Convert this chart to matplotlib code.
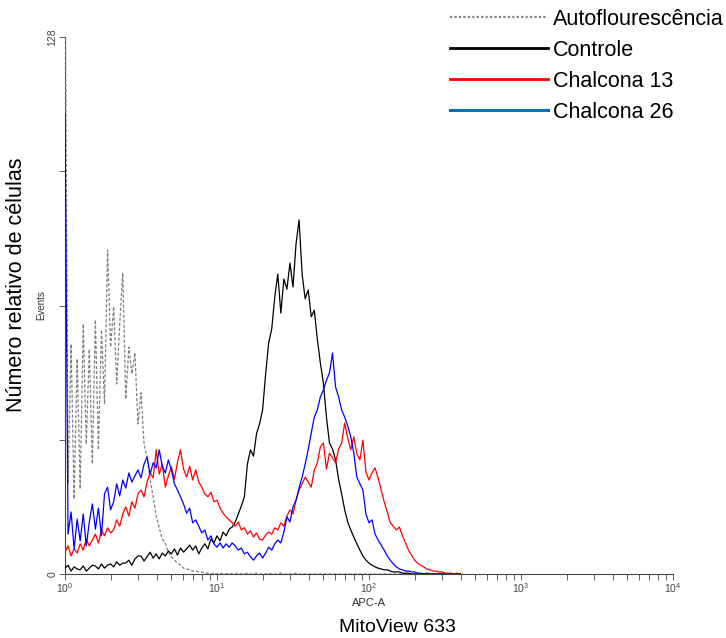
import numpy as np
import matplotlib
matplotlib.use("Agg")
import matplotlib.pyplot as plt
from matplotlib.lines import Line2D

plt.rcParams['font.family'] = ['Liberation Sans', 'DejaVu Sans']

# histogram channels (50 per decade, starting at 10^0)
channel = np.arange(131)
apc = 10 ** (channel / 50)

# Events per channel
autofluor = [150, 21.5, 54.8, 17.9, 51.3, 20.3, 59.6, 31.0, 53.6, 26.2,
             60.6, 29.6, 58.2, 40.5, 77.2, 54.1, 63.7, 45.3, 59.6, 71.8,
             41.7, 54.1, 47.7, 52.7, 35.8, 43.2, 31.0, 27.9, 22.4, 18.4,
             13.8, 11.0, 8.3, 7.4, 5.2, 4.1, 3.3, 2.6, 2.1, 1.4,
             1.2, 1.0, 0.7, 0.7, 0.5, 0.5, 0.2, 0.2, 0, 0.2,
             0, 0.2, 0, 0, 0.2, 0, 0, 0.2, 0, 0,
             0.2, 0, 0, 0.2, 0, 0, 0, 0.2, 0, 0,
             0, 0.2, 0, 0, 0, 0, 0.2, 0, 0, 0,
             0, 0, 0, 0, 0, 0, 0, 0, 0, 0,
             0, 0, 0, 0, 0, 0, 0, 0, 0, 0,
             0, 0, 0, 0, 0, 0, 0, 0, 0, 0,
             0, 0, 0, 0, 0, 0, 0, 0, 0, 0,
             0, 0, 0, 0, 0, 0, 0, 0, 0, 0,
             0]

controle = [1.4, 2.1, 0.7, 1.7, 1.2, 1.0, 1.9, 0.7, 1.4, 2.1,
            1.9, 1.2, 2.4, 1.4, 2.1, 2.4, 1.7, 2.9, 2.1, 2.6,
            2.6, 3.3, 2.1, 3.6, 4.3, 4.3, 3.1, 4.1, 5.2, 3.8,
            4.8, 3.6, 5.0, 4.3, 5.5, 4.8, 6.0, 4.5, 6.2, 5.2,
            6.0, 6.9, 5.7, 6.7, 4.8, 6.2, 7.2, 6.0, 8.3, 7.4,
            9.1, 7.9, 10.0, 9.1, 10.7, 11.2, 12.4, 14.3, 16.2, 18.4,
            26.2, 29.6, 28.1, 33.4, 35.8, 39.1, 47.7, 55.1, 58.4, 66.0,
            71.5, 62.2, 70.3, 67.9, 74.1, 68.4, 78.7, 84.4, 71.5, 65.6,
            67.7, 61.3, 62.9, 56.0, 50.3, 45.5, 37.4, 31.2, 29.8, 27.2,
            22.6, 19.1, 15.3, 12.4, 10.5, 8.8, 7.2, 5.7, 4.3, 3.3,
            2.6, 2.1, 1.7, 1.4, 1.2, 1.0, 1.0, 0.7, 0.5, 0.5,
            0.5, 0.2, 0.2, 0.2, 0, 0, 0, 0, 0, 0,
            0, 0, 0, 0, 0, 0, 0, 0, 0, 0,
            0]

chalcona13 = [5.2, 6.7, 4.3, 6.0, 5.0, 7.2, 5.7, 8.3, 6.7, 8.1,
              9.5, 7.4, 10.5, 9.1, 11.0, 9.8, 10.5, 12.9, 11.4, 14.3,
              16.0, 13.8, 17.2, 15.7, 19.1, 20.0, 18.4, 21.9, 24.1, 22.9,
              29.6, 23.8, 26.2, 20.7, 23.4, 25.5, 22.6, 26.7, 29.6, 25.0,
              23.1, 25.7, 22.4, 24.8, 21.9, 20.7, 19.1, 18.4, 19.5, 17.2,
              17.6, 15.7, 14.5, 13.6, 12.9, 12.2, 11.4, 12.4, 10.5, 11.0,
              9.5, 10.3, 8.8, 9.8, 8.3, 8.1, 9.3, 10.0, 9.5, 11.0,
              10.5, 12.2, 11.4, 13.8, 15.3, 14.3, 17.6, 20.0, 21.5, 23.1,
              21.9, 20.7, 24.8, 26.5, 30.3, 31.2, 25.0, 28.8, 27.7, 26.5,
              29.8, 31.2, 36.0, 32.4, 29.6, 32.7, 28.6, 27.2, 31.9, 24.3,
              22.4, 24.1, 25.3, 22.9, 20.0, 17.2, 14.8, 12.2, 11.4, 10.5,
              11.2, 9.1, 7.4, 5.7, 4.5, 3.3, 2.6, 2.1, 1.7, 1.2,
              1.0, 0.7, 0.7, 0.5, 0.5, 0.2, 0.2, 0.2, 0, 0.2,
              0]

chalcona26 = [109.4, 9.5, 14.8, 6.0, 13.1, 7.9, 14.3, 6.7, 12.4, 16.7,
              10.7, 15.7, 9.1, 19.1, 20.7, 15.3, 17.2, 21.5, 18.6, 22.4,
              20.5, 24.1, 21.9, 23.4, 24.8, 22.9, 26.2, 27.9, 23.8, 26.5,
              25.3, 29.6, 25.7, 24.1, 27.2, 24.8, 21.5, 20.0, 18.4, 16.7,
              14.5, 15.7, 12.2, 12.9, 11.4, 9.8, 10.5, 8.1, 9.1, 7.2,
              6.4, 7.4, 6.2, 7.2, 6.4, 7.4, 6.7, 5.7, 6.2, 4.8,
              5.2, 4.1, 3.3, 4.3, 5.0, 3.8, 5.0, 6.4, 5.7, 7.2,
              8.1, 7.4, 10.0, 13.6, 12.4, 16.0, 17.6, 20.5, 23.1, 26.2,
              29.6, 33.6, 37.4, 39.1, 42.2, 43.9, 46.2, 47.9, 52.7, 44.6,
              42.2, 39.1, 37.4, 35.3, 32.7, 28.8, 23.1, 21.5, 20.0, 14.3,
              12.2, 12.9, 9.5, 8.1, 6.9, 5.7, 4.3, 3.3, 2.4, 1.7,
              1.2, 1.0, 0.7, 0.7, 0.5, 0.5, 0.2, 0.2, 0, 0.2,
              0, 0, 0, 0, 0, 0, 0, 0, 0, 0,
              0]

labels = ['Autoflourescência', 'Controle', 'Chalcona 13', 'Chalcona 26']

fig = plt.figure(figsize=(7.26, 6.38), dpi=100)
ax = fig.add_axes([65/726, 64/638, 608/726, 537/638])

ax.plot(apc, autofluor, color='#808080', lw=0.9, ls=(0, (2.5, 1.5)), zorder=3)
ax.plot(apc, controle, color='black', lw=0.9, zorder=3)
ax.plot(apc, chalcona13, color='#ff0000', lw=0.9, zorder=3)
ax.plot(apc, chalcona26, color='#0000ff', lw=0.9, zorder=3)

ax.set_xscale('log')
ax.set_xlim(1, 1e4)
ax.set_ylim(0, 128)
ax.spines['top'].set_visible(False)
ax.spines['right'].set_visible(False)
for s in ['left', 'bottom']:
    ax.spines[s].set_linewidth(0.8)
    ax.spines[s].set_color('#444444')

ax.set_yticks([0, 32, 64, 96, 128])
ax.set_yticklabels(['0', '', '', '', '128'], rotation=90, va='center')
ax.tick_params(axis='both', which='both', length=4, width=0.6,
               labelsize=7.5, colors='#444444', pad=1.5)
ax.set_xlabel('APC-A', fontsize=8, labelpad=2, color='#333333')
ax.set_ylabel('Events', fontsize=7, labelpad=1, color='#333333')

fig.text(17/726, 1 - 285/638, 'Número relativo de células', rotation=90,
         ha='center', va='center', fontsize=15.5)
fig.text(397/726, 1 - 627/638, 'MitoView 633', ha='center', va='center',
         fontsize=14)

handles = [Line2D([], [], color='#808080', lw=1.6, ls=(0, (1, 1))),
           Line2D([], [], color='black', lw=2),
           Line2D([], [], color='#ff0000', lw=2),
           Line2D([], [], color='#0070c0', lw=2.2)]
fig.legend(handles, labels, loc='upper right', bbox_to_anchor=(1.0, 0.99),
           frameon=False, fontsize=15.5, handlelength=4.55, handletextpad=0.23,
           labelspacing=0.47, borderaxespad=0.0, borderpad=0.1)

fig.savefig('out.png', dpi=100)
